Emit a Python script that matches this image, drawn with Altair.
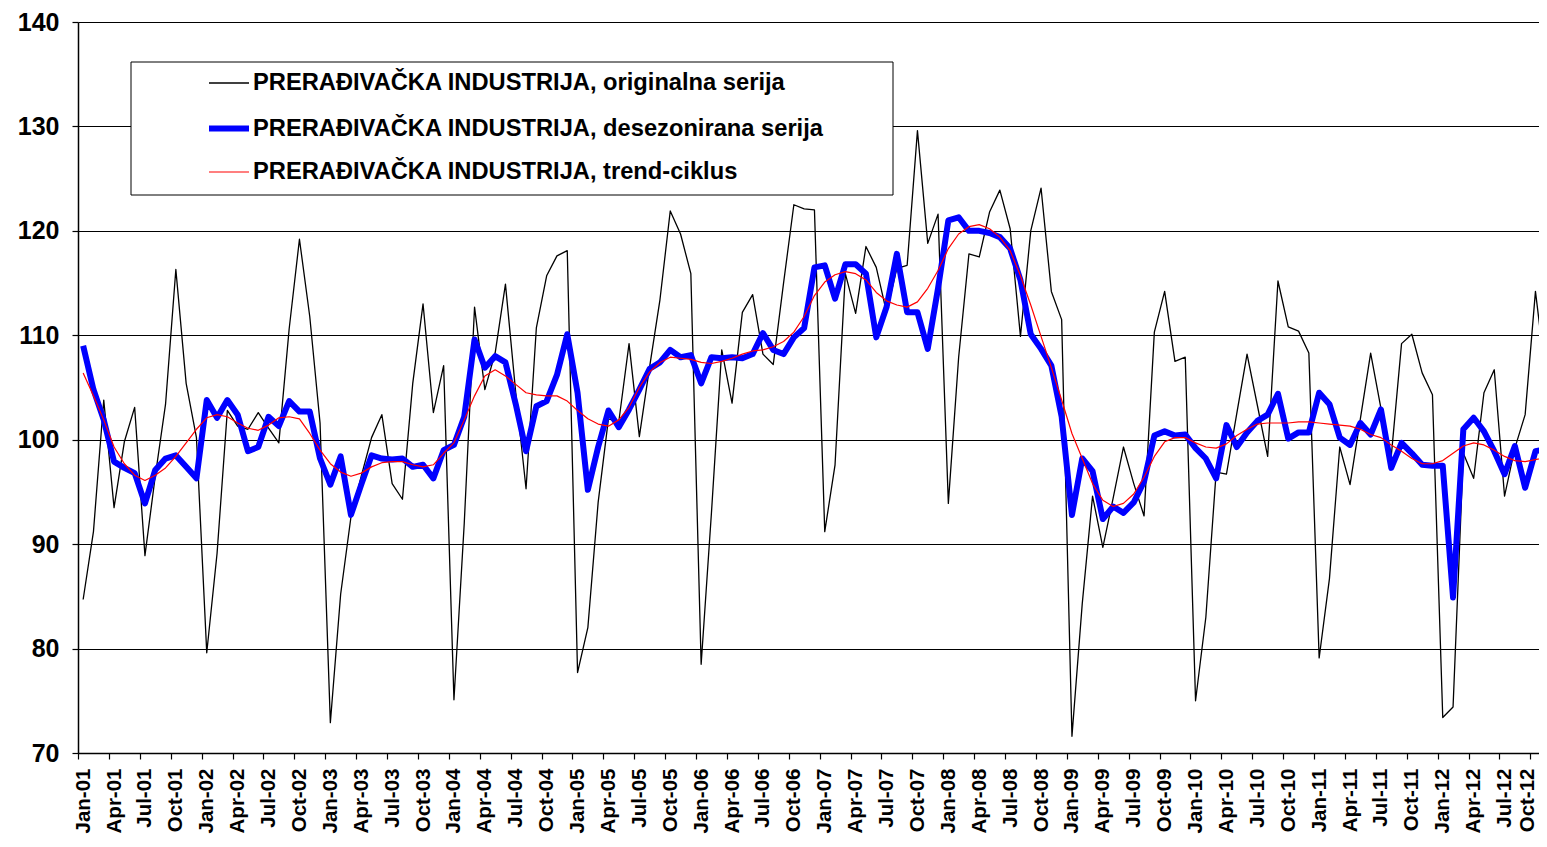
import json
import altair as alt
import pandas as pd

# ---------------- data ----------------
years = list(range(2001, 2013))
month_names = ["Jan", "Feb", "Mar", "Apr", "May", "Jun",
               "Jul", "Aug", "Sep", "Oct", "Nov", "Dec"]

series_names = [
    "PRERAĐIVAČKA INDUSTRIJA, originalna serija",
    "PRERAĐIVAČKA INDUSTRIJA, desezonirana serija",
    "PRERAĐIVAČKA INDUSTRIJA, trend-ciklus",
]

original = [
    84.7, 91.2, 103.8, 93.5, 99.8, 103.1, 88.9, 96.5, 103.4, 116.3, 105.4, 100.2,
    79.6, 89.1, 102.8, 101.3, 101.0, 102.6, 101.1, 99.7, 110.6, 119.2, 111.8, 101.6,
    72.9, 85.2, 92.6, 96.5, 100.2, 102.4, 95.8, 94.3, 105.4, 113.0, 102.6, 107.1,
    75.1, 92.0, 112.7, 104.8, 108.3, 114.9, 104.5, 95.3, 110.7, 115.7, 117.6, 118.1,
    77.7, 82.0, 94.0, 102.0, 101.7, 109.2, 100.3, 107.0, 113.4, 121.9, 119.7, 115.9,
    78.5, 93.0, 108.6, 103.5, 112.2, 113.9, 108.2, 107.2, 115.0, 122.5, 122.1, 122.0,
    91.2, 97.6, 115.9, 112.1, 118.5, 116.5, 112.2, 116.4, 116.7, 129.6, 118.8, 121.6,
    93.9, 107.9, 117.8, 117.5, 121.8, 123.9, 120.2, 109.9, 120.0, 124.1, 114.2, 111.5,
    71.6, 84.3, 94.6, 89.7, 94.4, 99.3, 95.8, 92.7, 110.3, 114.2, 107.5, 107.9,
    75.0, 83.0, 96.9, 96.7, 102.5, 108.2, 103.3, 98.4, 115.2, 110.8, 110.4, 108.3,
    79.1, 86.7, 99.3, 95.7, 102.0, 108.3, 103.0, 98.4, 109.2, 110.1, 106.4, 104.3,
    73.4, 74.4, 98.7, 96.3, 104.5, 106.7, 94.6, 99.2, 102.4, 114.2, 106.1,
]

deseasonal = [
    109.0, 104.8, 101.9, 97.9, 97.3, 96.8, 93.9, 97.1, 98.2, 98.5, 97.4, 96.3,
    103.8, 102.1, 103.8, 102.4, 98.9, 99.3, 102.2, 101.3, 103.7, 102.7, 102.7, 98.2,
    95.7, 98.4, 92.8, 95.7, 98.5, 98.2, 98.1, 98.2, 97.4, 97.6, 96.3, 99.0,
    99.5, 102.2, 109.6, 106.9, 108.0, 107.4, 103.4, 98.9, 103.2, 103.7, 106.2, 110.1,
    104.5, 95.2, 99.3, 102.8, 101.2, 102.9, 104.8, 106.8, 107.4, 108.6, 107.9, 108.1,
    105.4, 107.9, 107.8, 107.9, 107.8, 108.2, 110.2, 108.6, 108.2, 109.8, 110.7, 116.5,
    116.7, 113.5, 116.8, 116.8, 115.9, 109.8, 112.7, 117.8, 112.2, 112.2, 108.7, 114.5,
    121.0, 121.3, 120.0, 120.0, 119.8, 119.4, 118.3, 115.3, 110.1, 108.7, 107.1, 102.2,
    92.8, 98.2, 97.0, 92.4, 93.6, 93.0, 94.0, 96.0, 100.4, 100.8, 100.4, 100.5,
    99.2, 98.2, 96.3, 101.4, 99.3, 100.7, 101.8, 102.4, 104.4, 100.1, 100.7, 100.7,
    104.5, 103.4, 100.2, 99.5, 101.6, 100.5, 102.9, 97.3, 99.7, 98.7, 97.6, 97.5,
    97.5, 84.9, 101.0, 102.1, 100.8, 98.9, 96.7, 99.4, 95.4, 98.9, 99.1,
]

trend = [
    106.4, 104.2, 101.9, 99.3, 97.7, 96.6, 96.1, 96.6, 97.3, 98.4, 99.7, 101.0,
    102.1, 102.4, 102.2, 101.6, 101.1, 100.9, 101.4, 102.1, 102.2, 102.0, 100.6, 99.0,
    97.7, 96.9, 96.5, 96.8, 97.4, 97.8, 97.9, 97.9, 97.6, 97.4, 97.6, 98.7,
    99.7, 101.9, 104.2, 106.1, 106.7, 106.1, 105.3, 104.5, 104.3, 104.2, 104.2, 103.7,
    102.8, 102.0, 101.5, 101.3, 101.9, 103.1, 105.0, 106.5, 107.4, 107.9, 107.8, 107.7,
    107.4, 107.3, 107.5, 107.8, 108.2, 108.5, 108.6, 108.9, 109.4, 110.3, 111.8, 113.8,
    115.1, 115.8, 116.1, 115.9, 115.3, 114.1, 113.3, 112.9, 112.7, 113.2, 114.5, 116.2,
    118.3, 119.7, 120.4, 120.6, 120.2, 119.4, 118.1, 115.7, 112.9, 109.9, 106.9, 103.8,
    100.6, 98.2, 95.8, 94.2, 93.6, 93.9, 94.8, 96.4, 98.4, 99.8, 100.2, 100.2,
    99.7, 99.3, 99.2, 99.6, 100.4, 101.0, 101.5, 101.6, 101.6, 101.6, 101.7, 101.7,
    101.6, 101.5, 101.4, 101.3, 101.0, 100.5, 100.2, 99.5, 98.9, 98.2, 97.7, 97.7,
    98.0, 98.7, 99.4, 99.7, 99.5, 99.0, 98.4, 98.0, 97.9, 98.1, 98.3,
]

y_ticks = [70, 80, 90, 100, 110, 120, 130, 140]

# ---------------- table ----------------
month_labels = [f"{m}-{str(y)[2:]}" for y in years for m in month_names]
n = len(original)

rows = []
for name, vals in zip(series_names, [original, deseasonal, trend]):
    for i, v in enumerate(vals):
        rows.append({"t": i, "month": month_labels[i], "value": v, "series": name})
df = pd.DataFrame(rows)

# category axis: ticks on boundaries every 3 months, labels centred on Jan/Apr/Jul/Oct
tick_labels = month_labels[0:n:3]
tick_values = [3 * k - 0.5 for k in range(len(tick_labels))]
label_expr = f"{json.dumps(tick_labels, ensure_ascii=False)}[round((datum.value + 0.5) / 3)]"

FONT = "Liberation Sans"
PLOT_W = 1461
PLOT_H = 731
MONTH_PX = 10.30
x_domain = [-0.5, -0.5 + PLOT_W / MONTH_PX]
last_tick = tick_values[-1]

x_enc = alt.X(
    "t:Q",
    scale=alt.Scale(domain=x_domain, nice=False, zero=False),
    axis=alt.Axis(
        values=tick_values,
        labelExpr=label_expr,
        labelAngle=-90,
        labelAlign="right",
        labelBaseline="middle",
        labelOffset={"condition": {"test": f"datum.value >= {last_tick}", "value": -3},
                     "value": MONTH_PX / 2},
        labelFont=FONT,
        labelFontSize=20.5,
        labelFontWeight="bold",
        labelColor="black",
        labelPadding=9,
        labelOverlap=False,
        labelBound=False,
        labelFlush=False,
        tickColor="black",
        tickSize=6,
        tickWidth=1.2,
        domainColor="black",
        domainWidth=1.5,
        grid=False,
        title=None,
    ),
)

y_enc = alt.Y(
    "value:Q",
    scale=alt.Scale(domain=[70, 140], nice=False, zero=False),
    axis=alt.Axis(
        values=y_ticks,
        format="d",
        labelFont=FONT,
        labelFontSize=25,
        labelFontWeight="bold",
        labelColor="black",
        labelPadding=13,
        tickColor="black",
        tickSize=6,
        tickWidth=1.2,
        domainColor="black",
        domainWidth=1.5,
        grid=True,
        gridColor="black",
        gridWidth=1.2,
        title=None,
    ),
)

legend = alt.Legend(
    orient="none",
    legendX=53,
    legendY=37,
    title=None,
    direction="vertical",
    symbolType="stroke",
    symbolSize=1600,
    symbolOffset=72,
    labelOffset=1,
    labelFont=FONT,
    labelFontSize=23.7,
    labelFontWeight="bold",
    labelColor="black",
    labelLimit=900,
    rowPadding=10.5,
    padding=3,
)

color_enc = alt.Color(
    "series:N",
    scale=alt.Scale(domain=series_names, range=["#000000", "#0000FF", "#FF0000"]),
    legend=legend,
    sort=series_names,
)
width_enc = alt.StrokeWidth(
    "series:N",
    scale=alt.Scale(type="ordinal", domain=series_names, range=[1.3, 6.0, 1.2]),
    legend=legend,
    sort=series_names,
)

# legend frame (white box with black border, as in the original)
frame = (
    alt.Chart(pd.DataFrame({"frame": [0]}))
    .mark_rect(fill="white", stroke="black", strokeWidth=1)
    .encode(x=alt.value(53), x2=alt.value(815), y=alt.value(40), y2=alt.value(173))
)

base = alt.Chart(df)
layers = [
    base.transform_filter(alt.datum.series == name)
    .mark_line(clip=True, strokeJoin="round", strokeCap="butt")
    .encode(x=x_enc, y=y_enc, color=color_enc, strokeWidth=width_enc,
            order="t:Q")
    for name in series_names
]

chart = (
    alt.layer(*layers, frame)
    .properties(
        width=PLOT_W,
        height=PLOT_H,
        padding={"left": 70, "top": 14, "right": 0, "bottom": 81},
        autosize=alt.AutoSizeParams(type="none"),
        background="white",
    )
    .configure_view(stroke=None)
)

chart.save("out.html", embed_options={"renderer": "svg", "actions": False})
